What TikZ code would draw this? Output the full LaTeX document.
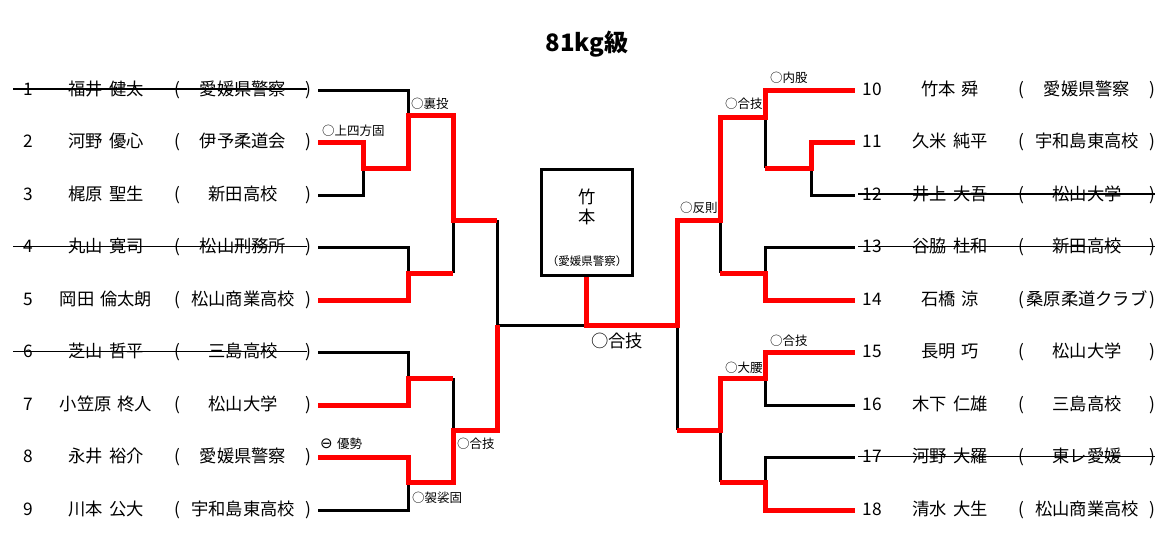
\documentclass[tikz,border=0pt]{standalone}
\usepackage{fontspec}
\setmainfont{Noto Sans CJK JP}
\newfontfamily\symf{DejaVu Sans}
\newcommand\gap{\hspace{0.35em}}
\tikzset{
  blk/.style={line width=3pt, black},
  win/.style={line width=5pt, red},
  nm/.style={font=\fontsize{17.3}{19}\selectfont, inner sep=0pt, text height=1.0em, text depth=0pt},
  strikeline/.style={line width=1.1pt, black},
  lbl/.style={font=\fontsize{12.5}{14}\selectfont, inner sep=0pt, anchor=west, text height=1.0em, text depth=0pt},
}
\begin{document}
\begin{tikzpicture}[x=1pt,y=-1pt]
\useasboundingbox (0,0) rectangle (1170,536);
% title
\node[font=\fontsize{24}{28}\selectfont\bfseries, inner sep=0pt, anchor=base] (title) at (587,51) {81kg級};
% left entries
\foreach \i/\nme/\aff/\s in {1/福井\gap 健太/愛媛県警察/1, 2/河野\gap 優心/伊予柔道会/0, 3/梶原\gap 聖生/新田高校/0, 4/丸山\gap 寛司/松山刑務所/1, 5/岡田\gap 倫太朗/松山商業高校/0, 6/芝山\gap 哲平/三島高校/1, 7/小笠原\gap 柊人/松山大学/0, 8/永井\gap 裕介/愛媛県警察/0, 9/川本\gap 公大/宇和島東高校/0}{
  \pgfmathsetmacro\y{90+(\i-1)*52.5}
  \node[nm] (Ln\i) at (28,\y) {\i};
  \node[nm] (Lm\i) at (106,\y) {\nme};
  \node[nm] (Lo\i) at (177,\y) {(};
  \node[nm] (La\i) at (243,\y) {\aff};
  \node[nm] (Lc\i) at (308,\y) {)};
  \coordinate (L\i) at (318,\y);
  \ifnum\s=1 \draw[strikeline] (13,\y-1) -- (307,\y-1); \fi
}
% right entries
\foreach \i/\nme/\aff/\s in {10/竹本\gap 舜/愛媛県警察/0, 11/久米\gap 純平/宇和島東高校/0, 12/井上\gap 大吾/松山大学/1, 13/谷脇\gap 杜和/新田高校/1, 14/石橋\gap 涼/桑原柔道クラブ/0, 15/長明\gap 巧/松山大学/0, 16/木下\gap 仁雄/三島高校/0, 17/河野\gap 大羅/東レ愛媛/1, 18/清水\gap 大生/松山商業高校/0}{
  \pgfmathsetmacro\y{90+(\i-10)*52.5}
  \node[nm] (Rn\i) at (872,\y) {\i};
  \node[nm] (Rm\i) at (950,\y) {\nme};
  \node[nm] (Ro\i) at (1021,\y) {(};
  \node[nm] (Ra\i) at (1087,\y) {\aff};
  \node[nm] (Rc\i) at (1152,\y) {)};
  \coordinate (R\i) at (855,\y);
  \ifnum\s=1 \draw[strikeline] (858,\y-1) -- (1155,\y-1); \fi
}
% champion box
\node[draw, line width=3pt, minimum width=91pt, minimum height=106pt, inner sep=0pt] (box) at (586.5,222) {};
\node[nm] (bx1) at (587,198) {竹};
\node[nm] (bx2) at (587,218) {本};
\node[font=\fontsize{11.5}{13}\selectfont, inner sep=0pt, text height=1.0em, text depth=0pt] (bx3) at (587,260) {（愛媛県警察）};
% left black
\draw[blk] (L1) -| (408,115);
\draw[blk] (L3) -| (363,168);
\draw[blk] (L4) -| (408,273);
\draw[blk] (453,220) -- (453,273);
\draw[blk] (497,220) |- (586.5,325);
\draw[blk] (L6) -| (408,378);
\draw[blk] (453,378) -- (453,430);
\draw[blk] (L9) -| (408,482);
% right black
\draw[blk] (677,325) -- (677,430);
\draw[blk] (720,220) -- (720,273);
\draw[blk] (765,117) -- (765,168);
\draw[blk] (R12) -| (811,168);
\draw[blk] (R13) -| (765,273);
\draw[blk] (R16) -| (765,378);
\draw[blk] (720,430) -- (720,482);
\draw[blk] (R17) -| (765,482);
% left red
\draw[win] (L2) -| (363,168) -| (408,115) -| (453,220) -- (497,220);
\draw[win] (L5) -| (408,273) -- (453,273);
\draw[win] (L7) -| (408,378) -- (453,378);
\draw[win] (L8) -| (408,482) -| (453,430) -| (497,325);
% champion path
\draw[win] (box.south) |- (677,325) |- (720,220) |- (765,117) |- (R10);
% right red
\draw[win] (R11) -| (811,168) -- (765,168);
\draw[win] (R14) -| (765,273) -- (720,273);
\draw[win] (677,430) -| (720,378) -- (765,378) |- (R15);
\draw[win] (R18) -| (765,482) -- (720,482);
% labels
\node[lbl] (k1) at (322,130) {○上四方固};
\node[lbl] (k2) at (411,103) {○裏投};
\node[lbl] (k3) at (320,443) {{\symf\fontsize{15}{15}\selectfont ⊖}\gap 優勢};
\node[lbl] (k4) at (457,443) {○合技};
\node[lbl] (k5) at (412,497) {○袈裟固};
\node[lbl] (k6) at (680,207) {○反則};
\node[lbl] (k7) at (725,103) {○合技};
\node[lbl] (k8) at (770,77) {○内股};
\node[lbl] (k9) at (725,367) {○大腰};
\node[lbl] (k10) at (770,340) {○合技};
\node[font=\fontsize{17.3}{20}\selectfont, inner sep=0pt, text height=1.0em, text depth=0pt] (res) at (617,342) {○合技};
\end{tikzpicture}
\end{document}
